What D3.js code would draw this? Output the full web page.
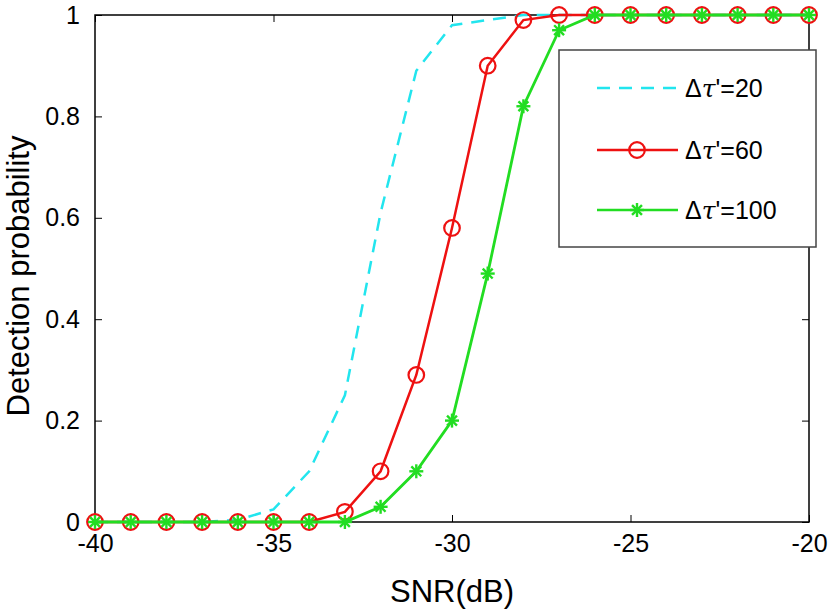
<!DOCTYPE html>
<html>
<head>
<meta charset="utf-8">
<script src="https://cdn.jsdelivr.net/npm/d3@7/dist/d3.min.js"></script>
<style>
  body { margin: 0; background: #fff; }
  text { font-family: Arial, "Liberation Sans", sans-serif; }
</style>
</head>
<body>
<script>
var snr = [-40, -39, -38, -37, -36, -35, -34, -33, -32, -31, -30, -29, -28, -27, -26, -25, -24, -23, -22, -21, -20];
var pd20 = [0, 0, 0, 0, 0.004, 0.025, 0.1, 0.25, 0.61, 0.89, 0.98, 0.99, 1, 1, 1, 1, 1, 1, 1, 1, 1];
var pd60 = [0, 0, 0, 0, 0, 0, 0, 0.02, 0.1, 0.29, 0.58, 0.9, 0.99, 1, 1, 1, 1, 1, 1, 1, 1];
var pd100 = [0, 0, 0, 0, 0, 0, 0, 0, 0.03, 0.1, 0.2, 0.49, 0.82, 0.97, 1, 1, 1, 1, 1, 1, 1];
var xTicks = [-40, -35, -30, -25, -20];
var yTicks = [0, 0.2, 0.4, 0.6, 0.8, 1];
var legendLabels = ["20", "60", "100"];

var W = 832, H = 612;
var margin = {left: 95, right: 23, top: 15, bottom: 90};

var svg = d3.select("body").append("svg")
    .attr("width", W)
    .attr("height", H);

var x = d3.scaleLinear().domain([-40, -20]).range([margin.left, W - margin.right]);
var y = d3.scaleLinear().domain([0, 1]).range([H - margin.bottom, margin.top]);

// axes with inward ticks on all four sides
var tickLen = 7;
svg.append("g")
    .attr("transform", "translate(0," + y(0) + ")")
    .call(d3.axisBottom(x).tickValues(xTicks).tickSizeInner(-tickLen).tickSizeOuter(0).tickPadding(12).tickFormat(function(d) { return String(d); }))
    .call(function(g) {
        g.select(".domain").remove();
        g.selectAll("text").attr("font-size", "25px").attr("fill", "#000");
    });
svg.append("g")
    .attr("transform", "translate(" + x(-40) + ",0)")
    .call(d3.axisLeft(y).tickValues(yTicks).tickSizeInner(-tickLen).tickSizeOuter(0).tickPadding(15).tickFormat(function(d) { return d === 0 || d === 1 ? d : d.toFixed(1); }))
    .call(function(g) {
        g.select(".domain").remove();
        g.selectAll("text").attr("font-size", "25px").attr("fill", "#000");
    });
svg.append("g")
    .attr("transform", "translate(0," + y(1) + ")")
    .call(d3.axisTop(x).tickValues(xTicks).tickSizeInner(-tickLen).tickSizeOuter(0).tickFormat(""))
    .call(function(g) { g.select(".domain").remove(); });
svg.append("g")
    .attr("transform", "translate(" + x(-20) + ",0)")
    .call(d3.axisRight(y).tickValues(yTicks).tickSizeInner(-tickLen).tickSizeOuter(0).tickFormat(""))
    .call(function(g) { g.select(".domain").remove(); });

svg.append("rect")
    .attr("x", x(-40)).attr("y", y(1))
    .attr("width", x(-20) - x(-40)).attr("height", y(0) - y(1))
    .attr("fill", "none").attr("stroke", "#000").attr("stroke-width", 1.5);

var line = d3.line()
    .x(function(d) { return x(d[0]); })
    .y(function(d) { return y(d[1]); });

function pairs(vals) {
    return snr.map(function(s, i) { return [s, vals[i]]; });
}

var cyan = "#22e5ee", red = "#ee1111", green = "#22dd22";

// curves
svg.append("path").datum(pairs(pd20)).attr("d", line)
    .attr("fill", "none").attr("stroke", cyan).attr("stroke-width", 2.5)
    .attr("stroke-dasharray", "13,9");
svg.append("path").datum(pairs(pd60)).attr("d", line)
    .attr("fill", "none").attr("stroke", red).attr("stroke-width", 2.5);
svg.selectAll(".circ").data(pairs(pd60)).enter().append("circle")
    .attr("cx", function(d) { return x(d[0]); })
    .attr("cy", function(d) { return y(d[1]); })
    .attr("r", 7.8)
    .attr("fill", "none").attr("stroke", red).attr("stroke-width", 2.2);

svg.append("path").datum(pairs(pd100)).attr("d", line)
    .attr("fill", "none").attr("stroke", green).attr("stroke-width", 2.8);

function star(g, cx, cy) {
    var s = 7;
    var angles = [0, 45, 90, 135];
    angles.forEach(function(a) {
        var r = a * Math.PI / 180;
        g.append("line")
            .attr("x1", cx - s * Math.cos(r)).attr("y1", cy - s * Math.sin(r))
            .attr("x2", cx + s * Math.cos(r)).attr("y2", cy + s * Math.sin(r))
            .attr("stroke", green).attr("stroke-width", 2.4);
    });
}
var starG = svg.append("g");
pairs(pd100).forEach(function(d) { star(starG, x(d[0]), y(d[1])); });

// legend
var lg = svg.append("g");
lg.append("rect")
    .attr("x", 559).attr("y", 50).attr("width", 257).attr("height", 197)
    .attr("fill", "#fff").attr("stroke", "#444").attr("stroke-width", 1.5);
var rows = [88, 150, 210];
var colors = [cyan, red, green];
rows.forEach(function(ry, i) {
    var l = lg.append("line")
        .attr("x1", 597).attr("x2", 678).attr("y1", ry).attr("y2", ry)
        .attr("stroke", colors[i]).attr("stroke-width", 2.5);
    if (i === 0) l.attr("stroke-dasharray", "13,9");
    if (i === 1) lg.append("circle").attr("cx", 637).attr("cy", ry).attr("r", 7.8)
        .attr("fill", "none").attr("stroke", red).attr("stroke-width", 2.2);
    if (i === 2) star(lg, 637, ry);
    var t = lg.append("text").attr("x", 685).attr("y", ry + 9).attr("font-size", "25px").attr("fill", "#000");
    t.append("tspan").text("Δ");
    t.append("tspan").attr("font-style", "italic").attr("font-family", "'DejaVu Serif', serif").text("τ");
    t.append("tspan").text("'=" + legendLabels[i]);
});

// axis labels
svg.append("text")
    .attr("x", x(-30)).attr("y", 602)
    .attr("text-anchor", "middle").attr("font-size", "31px")
    .text("SNR(dB)");
svg.append("text")
    .attr("transform", "translate(29,276) rotate(-90)")
    .attr("text-anchor", "middle").attr("font-size", "31px")
    .text("Detection probability");
</script>
</body>
</html>
